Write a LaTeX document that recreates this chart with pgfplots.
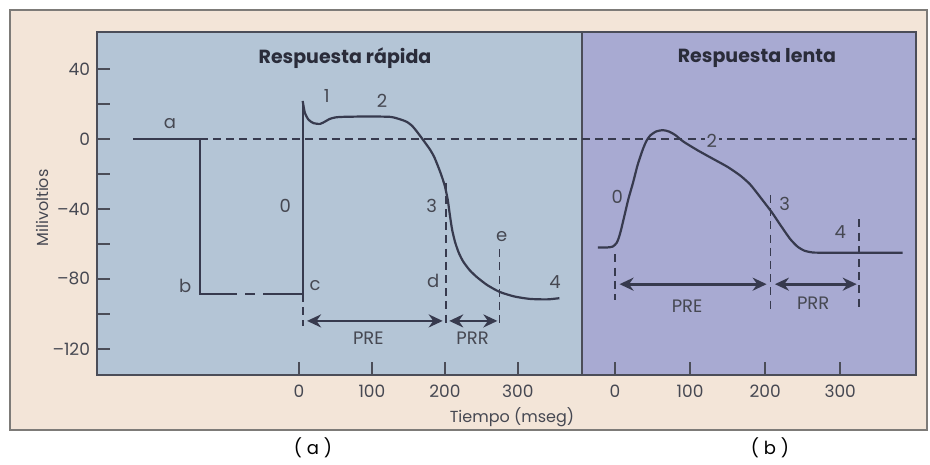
\documentclass[border=0pt]{standalone}
\usepackage{fontspec}
\setmainfont{Poppins}
\usepackage{pgfplots}
\pgfplotsset{compat=1.18}
\usetikzlibrary{arrows.meta}
\definecolor{bgout}{RGB}{243,229,216}
\definecolor{panelA}{RGB}{180,197,214}
\definecolor{panelB}{RGB}{168,170,210}
\definecolor{ink}{RGB}{55,58,78}
\definecolor{framec}{RGB}{75,77,88}
\definecolor{outerc}{RGB}{125,123,120}
\definecolor{txt}{RGB}{70,72,82}
\definecolor{ttl}{RGB}{42,44,58}
\tikzset{
  lab/.style={font=\fontsize{9}{10}\selectfont, text=txt, inner sep=1pt},
  ttlst/.style={font=\fontsize{9.5}{11}\selectfont\bfseries, text=ttl}
}
\begin{document}
\begin{tikzpicture}
\path[fill=white] (0,0) rectangle (465pt,232.5pt);
\path[fill=bgout, draw=outerc, line width=1.1pt] (5pt,17.5pt) rectangle (463.5pt,227.5pt);
\pgfplotsset{
  panel/.style={scale only axis, anchor=south west, height=171.5pt,
    ymin=-134.9, ymax=61.1,
    axis line style={draw=framec, line width=1.1pt},
    tick align=inside, major tick length=6.5pt, minor tick length=6.5pt,
    every tick/.style={line width=1.1pt, color=framec},
    minor tick style={line width=1.1pt, color=framec},
    xtick pos=bottom, ytick pos=left,
    ticklabel style={font=\fontsize{8.5}{10}\selectfont, text=txt},
    xtick={0,100,200,300}, xticklabels={0,100,200,300},
    xticklabel style={yshift=-1.5pt}},
  curve/.style={ink, line width=1.1pt},
  dash/.style={ink, line width=0.9pt, dash pattern=on 4pt off 2.6pt},
  arr/.style={ink, line width=1.4pt, {Stealth[length=7pt,width=6.5pt]}-{Stealth[length=7pt,width=6.5pt]}}
}
% Left panel: fast response
\begin{axis}[panel, at={(48.5pt,45pt)}, width=242.5pt, xmin=-277, xmax=388,
  axis background/.style={fill=panelA},
  ytick={-120,-80,-40,0,40}, yticklabels={–120,–80,–40,0,40},
  minor ytick={-100,-60,-20,20}]
\addplot[dash] coordinates {(-136,0)(388,0)};
\addplot[curve] coordinates {(-227,0)(-136,0)(-136,-88.6)(-85,-88.6)};
\addplot[curve] coordinates {(-74,-88.6)(-60,-88.6)};
\addplot[curve] coordinates {(-49,-88.6)(5,-88.6)(5,21.7)};
\addplot[curve, smooth, tension=0.4] coordinates {(5,21.7)(8,15)(13,11)(20,9)(29,8.6)(36,10)(42,11.4)(50,12.3)(60,12.6)(90,12.8)(125,12.6)(140,11)(148,9.7)(155,7.5)(162,4)(170,-0.5)(179,-5.7)(185,-10)(190,-15)(195,-20.5)(200,-27)(204,-35)(207,-44)(210,-52)(214,-59)(219,-65)(225,-70)(234,-75)(244,-79)(258,-83.5)(275,-87.4)(295,-90)(316,-91.4)(340,-91.7)(357,-91)};
\addplot[dash] coordinates {(5,-88.6)(5,-107)};
\addplot[dash] coordinates {(201,-25)(201,-107)};
\addplot[dash] coordinates {(275,-63)(275,-108)};
\addplot[arr] coordinates {(11,-104)(197,-104)};
\addplot[arr] coordinates {(206,-104)(272,-104)};
\node[ttlst] at (axis cs:63,46.3) {Respuesta rápida};
\node[lab] at (axis cs:-177,8.6) {a};
\node[lab] at (axis cs:-156,-84) {b};
\node[lab] at (axis cs:22,-84) {c};
\node[lab] at (axis cs:-19,-38) {0};
\node[lab] at (axis cs:38,24.6) {1};
\node[lab] at (axis cs:114,21.7) {2};
\node[lab] at (axis cs:182,-38) {3};
\node[lab] at (axis cs:184,-81) {d};
\node[lab] at (axis cs:278,-56) {e};
\node[lab] at (axis cs:351,-82) {4};
\node[lab] at (axis cs:95,-114) {PRE};
\node[lab] at (axis cs:238,-114) {PRR};
\end{axis}
% Right panel: slow response
\begin{axis}[panel, at={(291pt,45pt)}, width=167pt, xmin=-44, xmax=401,
  axis background/.style={fill=panelB}, ytick=\empty]
\addplot[dash] coordinates {(-44,0)(401,0)};
\addplot[curve, smooth, tension=0.4] coordinates {(-23,-62)(-10,-62)(-3,-61.5)(2,-59.5)(5,-56.5)(8,-52)(13,-43)(18,-34)(24,-25)(30,-15)(37,-6)(42,-1)(47,2)(55,4.3)(64,5)(72,4.2)(80,2.3)(91,-1.5)(110,-6.5)(131,-11.5)(150,-16)(167,-21)(180,-26)(193,-33)(209,-42)(220,-49)(233,-57)(243,-61.5)(252,-63.8)(262,-64.8)(275,-65)(383,-65)};
\addplot[dash] coordinates {(0,-66)(0,-92)};
\addplot[dash] coordinates {(207,-32)(207,-98)};
\addplot[dash] coordinates {(325,-46)(325,-97)};
\addplot[arr] coordinates {(6,-83)(202,-83)};
\addplot[arr] coordinates {(213,-83)(322,-83)};
\node[ttlst] at (axis cs:189,46.3) {Respuesta lenta};
\node[lab] at (axis cs:3,-33) {0};
\node[lab, fill=panelB] at (axis cs:129,-1) {2};
\node[lab] at (axis cs:226,-37) {3};
\node[lab] at (axis cs:300,-53) {4};
\node[lab] at (axis cs:96,-95.5) {PRE};
\node[lab] at (axis cs:264,-94) {PRR};
\end{axis}
\node[rotate=90, font=\fontsize{8}{9}\selectfont, text=txt] at (21pt,128.5pt) {Milivoltios};
\node[font=\fontsize{8}{9}\selectfont, text=txt] at (256pt,24pt) {Tiempo (mseg)};
\node[font=\fontsize{9}{10}\selectfont] at (156.5pt,8.5pt) {( a )};
\node[font=\fontsize{9}{10}\selectfont] at (385pt,8.5pt) {( b )};
\end{tikzpicture}
\end{document}
